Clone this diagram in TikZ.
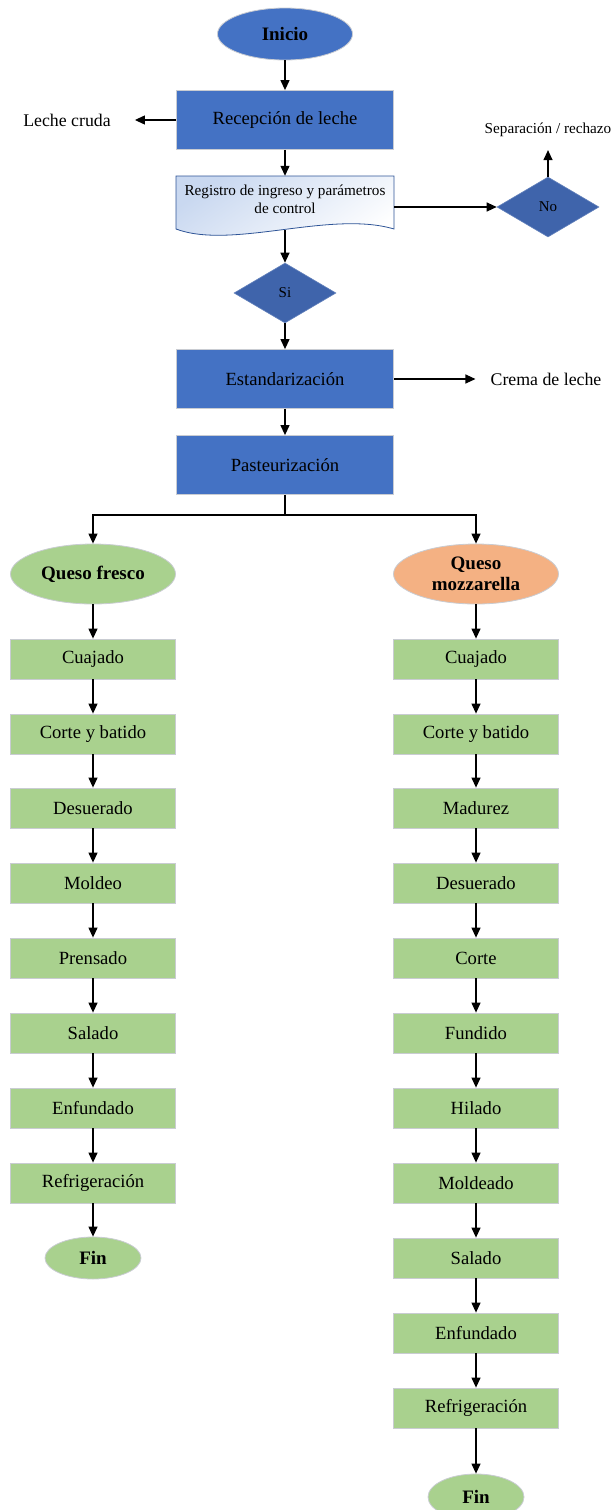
\documentclass[tikz,border=0pt]{standalone}
\usepackage{fontspec}
\setmainfont{Liberation Serif}
\usetikzlibrary{shapes.geometric,arrows.meta}
\definecolor{procblue}{HTML}{4472C4}
\definecolor{decblue}{HTML}{3F64AB}
\definecolor{procgreen}{HTML}{A9D18E}
\definecolor{termorange}{HTML}{F4B183}
\definecolor{edgegray}{HTML}{C9CCD2}
\definecolor{docline}{HTML}{2F5597}
\definecolor{docfill}{HTML}{C9D8F0}
\begin{document}
\begin{tikzpicture}[x=1pt,y=-1pt,
  base/.style={font=\fontsize{18.6}{20}\selectfont, inner sep=0pt, text=black},
  blueproc/.style={base, rectangle, draw=edgegray, line width=0.8pt, fill=procblue, minimum width=217pt, minimum height=59pt},
  greenproc/.style={base, rectangle, draw=edgegray, line width=0.8pt, fill=procgreen, minimum width=165pt, minimum height=40pt},
  term/.style={base, ellipse, draw=edgegray, line width=0.8pt, font=\bfseries\fontsize{19}{21.5}\selectfont, align=center},
  decision/.style={diamond, fill=decblue, draw=decblue!80!white, line width=0.6pt, minimum width=102pt, minimum height=60pt, inner sep=0pt, font=\fontsize{15}{18}\selectfont},
  plainlabel/.style={base, font=\fontsize{17.8}{20}\selectfont},
  smalllabel/.style={base, font=\fontsize{15.2}{18}\selectfont, align=center},
  arr/.style={-{Triangle[length=10pt,width=9pt]}, line width=1.2pt},
]
\useasboundingbox (0,0) rectangle (614,1510);

% top part
\node[term, fill=procblue, minimum width=135pt, minimum height=52pt] (ini) at (285,34) {Inicio};
\node[blueproc] (rec) at (285,120) {Recepción de leche};
\node[plainlabel] (leche) at (67,120) {Leche cruda};

% document shape
\node[minimum width=218pt, minimum height=54pt, inner sep=0pt] (reg) at (285,203) {};
\draw[docline, line width=0.8pt, top color=docfill, bottom color=white, shading angle=35]
  (176,176) -- (394,176) -- (394,229)
  .. controls (330,210) and (232,250) .. (176,229) -- cycle;
\node[smalllabel] (regtxt) at (285,199) {Registro de ingreso y parámetros\\de control};

\node[decision] (no) at (548,207) {No};
\node[smalllabel] (sep) at (548,130) {Separación / rechazo};
\node[decision] (si) at (285,293) {Si};

\node[blueproc] (est) at (285,379) {Estandarización};
\node[plainlabel] (crema) at (546,379) {Crema de leche};
\node[blueproc] (past) at (285,465) {Pasteurización};

% branches
\node[term, fill=procgreen, minimum width=165pt, minimum height=60pt] (qf) at (93,574) {Queso fresco};
\node[term, fill=termorange, minimum width=165pt, minimum height=60pt] (qm) at (476,574) {Queso\\mozzarella};

% left column
\node[greenproc] (l1) at (93,659) {Cuajado};
\node[greenproc] (l2) at (93,734) {Corte y batido};
\node[greenproc] (l3) at (93,808) {Desuerado};
\node[greenproc] (l4) at (93,883) {Moldeo};
\node[greenproc] (l5) at (93,958) {Prensado};
\node[greenproc] (l6) at (93,1033) {Salado};
\node[greenproc] (l7) at (93,1108) {Enfundado};
\node[greenproc] (l8) at (93,1183) {Refrigeración};
\node[term, fill=procgreen, minimum width=96pt, minimum height=42pt] (finl) at (93,1258) {Fin};

% right column
\node[greenproc] (r1) at (476,659) {Cuajado};
\node[greenproc] (r2) at (476,734) {Corte y batido};
\node[greenproc] (r3) at (476,808) {Madurez};
\node[greenproc] (r4) at (476,883) {Desuerado};
\node[greenproc] (r5) at (476,958) {Corte};
\node[greenproc] (r6) at (476,1033) {Fundido};
\node[greenproc] (r7) at (476,1108) {Hilado};
\node[greenproc] (r8) at (476,1183) {Moldeado};
\node[greenproc] (r9) at (476,1258) {Salado};
\node[greenproc] (r10) at (476,1333) {Enfundado};
\node[greenproc] (r11) at (476,1408) {Refrigeración};
\node[term, fill=procgreen, minimum width=96pt, minimum height=46pt] (finr) at (476,1497) {Fin};

% connectors
\draw[arr] (ini) -- (rec);
\draw[arr] (rec.west) -- ([xshift=24pt]leche.east);
\draw[arr] (rec) -- (reg.north);
\draw[arr] (no.west -| reg.east) -- (no.west);
\draw[arr] (no.north) -- ([yshift=-13pt]sep.south);
\draw[arr] (reg.south) -- (si.north);
\draw[arr] (si.south) -- (est.north);
\draw[arr] (est.east) -- ([xshift=-15pt]crema.west);
\draw[arr] (est) -- (past);
\draw[arr] (past.south) -- ++(0,20) -| (qf.north);
\draw[arr] (past.south) -- ++(0,20) -| (qm.north);

\draw[arr] (qf) -- (l1);
\foreach \a/\b in {l1/l2,l2/l3,l3/l4,l4/l5,l5/l6,l6/l7,l7/l8,l8/finl}
  \draw[arr] (\a) -- (\b);
\draw[arr] (qm) -- (r1);
\foreach \a/\b in {r1/r2,r2/r3,r3/r4,r4/r5,r5/r6,r6/r7,r7/r8,r8/r9,r9/r10,r10/r11,r11/finr}
  \draw[arr] (\a) -- (\b);
\end{tikzpicture}
\end{document}
